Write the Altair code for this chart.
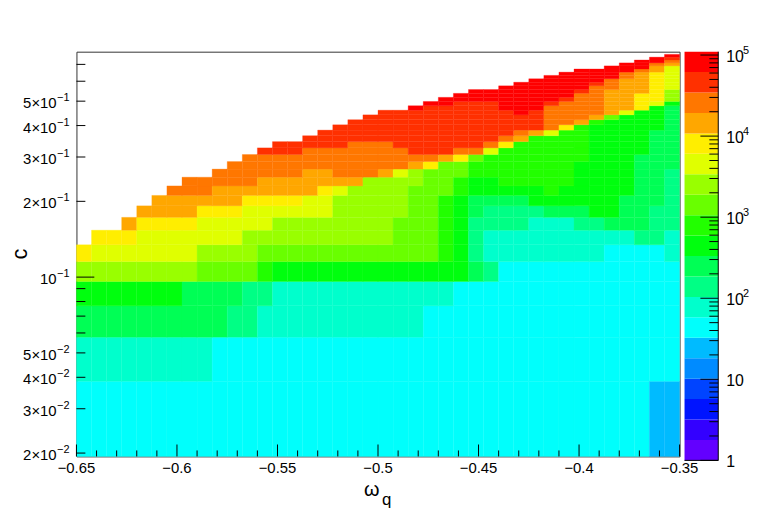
import altair as alt
import pandas as pd

# ROOT-style 20-level palette, lowest level first
palette = ["#6300FF", "#3300FF", "#0014FF", "#0044FF", "#008BFF", "#00BBFF", "#00FFFC",
           "#00FFCC", "#00FF85", "#00FF55", "#00FF0E", "#22FF00", "#69FF00", "#99FF00",
           "#E0FF00", "#FFEE00", "#FFA700", "#FF7700", "#FF3000", "#FF0000"]

# Histogram binning
x_min, x_max, n_x = -0.65, -0.35, 40
y_min, y_max, n_y = 0.0194, 0.7862, 40

# Colour level of each bin: (first column, last column, level), one list per row, bottom row first
row_00 = [(0, 37, 6), (38, 39, 5)]
row_01 = [(0, 8, 7), (9, 39, 6)]
row_02 = [(0, 9, 9), (10, 11, 8), (12, 22, 7), (23, 39, 6)]
row_03 = [(0, 6, 10), (7, 10, 9), (11, 12, 8), (13, 24, 7), (25, 39, 6)]
row_04 = [(0, 7, 13), (8, 11, 12), (12, 12, 11), (13, 25, 10), (26, 26, 9), (27, 27, 8), (28, 39, 6)]
row_05 = [(0, 0, 15), (1, 7, 14), (8, 11, 13), (12, 23, 12), (24, 24, 11), (25, 25, 10), (26, 26, 8), (27, 34, 7), (35, 38, 6), (39, 39, 7)]
row_06 = [(1, 3, 15), (4, 10, 14), (11, 20, 13), (21, 23, 12), (24, 24, 11), (25, 25, 10), (26, 26, 8), (27, 36, 7), (37, 38, 8), (39, 39, 7)]
row_07 = [(3, 3, 16), (4, 7, 15), (8, 12, 14), (13, 20, 13), (21, 23, 12), (24, 24, 11), (25, 25, 10), (26, 29, 8), (30, 32, 7), (33, 34, 8), (35, 37, 9), (38, 39, 8)]
row_08 = [(4, 7, 16), (8, 10, 15), (11, 16, 14), (17, 21, 13), (22, 23, 12), (24, 24, 11), (25, 25, 10), (26, 26, 9), (27, 30, 8), (31, 33, 9), (34, 35, 10), (36, 37, 9), (38, 39, 8)]
row_09 = [(5, 10, 16), (11, 14, 15), (15, 16, 14), (17, 21, 13), (22, 23, 12), (24, 24, 11), (25, 25, 10), (26, 29, 9), (30, 35, 10), (36, 38, 9), (39, 39, 8)]
row_10 = [(6, 8, 17), (9, 15, 16), (16, 16, 15), (17, 17, 14), (18, 21, 13), (22, 24, 12), (25, 25, 11), (26, 30, 10), (31, 31, 11), (32, 36, 10), (37, 38, 9), (39, 39, 8)]
row_11 = [(7, 11, 17), (12, 18, 16), (19, 22, 13), (23, 24, 12), (25, 25, 11), (26, 27, 10), (28, 32, 11), (33, 36, 10), (37, 38, 9), (39, 39, 8)]
row_12 = [(9, 14, 17), (15, 16, 16), (17, 19, 17), (20, 20, 16), (21, 21, 14), (22, 22, 13), (23, 25, 12), (26, 32, 11), (33, 36, 10), (37, 38, 9), (39, 39, 8)]
row_13 = [(10, 21, 17), (22, 22, 16), (23, 23, 15), (24, 25, 12), (26, 32, 11), (33, 36, 10), (37, 39, 9)]
row_14 = [(11, 23, 17), (24, 24, 16), (25, 25, 15), (26, 26, 12), (27, 33, 11), (34, 36, 10), (37, 39, 9)]
row_15 = [(12, 14, 18), (15, 21, 17), (22, 24, 18), (25, 26, 17), (27, 27, 14), (28, 33, 11), (34, 37, 10), (38, 39, 9)]
row_16 = [(13, 17, 18), (18, 20, 17), (21, 26, 18), (27, 27, 17), (28, 28, 15), (29, 33, 11), (34, 37, 10), (38, 39, 9)]
row_17 = [(15, 27, 18), (28, 28, 17), (29, 29, 16), (30, 33, 11), (34, 37, 10), (38, 39, 9)]
row_18 = [(16, 28, 18), (29, 29, 17), (30, 30, 16), (31, 31, 14), (32, 33, 11), (34, 37, 10), (38, 39, 9)]
row_19 = [(17, 30, 18), (31, 31, 17), (32, 32, 15), (33, 33, 11), (34, 38, 10), (39, 39, 9)]
row_20 = [(18, 30, 18), (31, 32, 17), (33, 33, 16), (34, 34, 11), (35, 38, 10), (39, 39, 9)]
row_21 = [(19, 30, 18), (31, 33, 17), (34, 34, 16), (35, 35, 12), (36, 38, 10), (39, 39, 9)]
row_22 = [(20, 28, 18), (29, 29, 19), (30, 30, 18), (31, 34, 17), (35, 35, 16), (36, 36, 14), (37, 38, 10), (39, 39, 9)]
row_23 = [(22, 22, 19), (23, 27, 18), (28, 30, 19), (31, 34, 17), (35, 36, 16), (37, 37, 15), (38, 38, 10), (39, 39, 9)]
row_24 = [(23, 24, 19), (25, 27, 18), (28, 30, 19), (31, 31, 18), (32, 34, 17), (35, 36, 16), (37, 37, 15), (38, 38, 14), (39, 39, 10)]
row_25 = [(24, 31, 19), (32, 32, 18), (33, 34, 17), (35, 36, 16), (37, 38, 15), (39, 39, 13)]
row_26 = [(25, 32, 19), (33, 34, 17), (35, 36, 16), (37, 38, 15), (39, 39, 13)]
row_27 = [(26, 32, 19), (33, 33, 18), (34, 34, 17), (35, 37, 16), (38, 38, 15), (39, 39, 13)]
row_28 = [(28, 33, 19), (34, 35, 17), (36, 37, 16), (38, 38, 15), (39, 39, 14)]
row_29 = [(29, 33, 19), (34, 34, 18), (35, 35, 17), (36, 37, 16), (38, 38, 15), (39, 39, 14)]
row_30 = [(30, 34, 19), (35, 35, 17), (36, 37, 16), (38, 38, 15), (39, 39, 14)]
row_31 = [(31, 35, 19), (36, 36, 17), (37, 37, 16), (38, 38, 15), (39, 39, 14)]
row_32 = [(32, 35, 19), (36, 36, 17), (37, 37, 16), (38, 38, 15), (39, 39, 14)]
row_33 = [(33, 36, 19), (37, 37, 17), (38, 38, 16), (39, 39, 14)]
row_34 = [(35, 37, 19), (38, 38, 16), (39, 39, 14)]
row_35 = [(36, 37, 19), (38, 38, 17), (39, 39, 16)]
row_36 = [(37, 38, 19), (39, 39, 17)]
row_37 = [(38, 38, 19), (39, 39, 18)]
row_38 = [(39, 39, 19)]
rows = [row_00, row_01, row_02, row_03, row_04, row_05, row_06, row_07, row_08, row_09,
        row_10, row_11, row_12, row_13, row_14, row_15, row_16, row_17, row_18, row_19,
        row_20, row_21, row_22, row_23, row_24, row_25, row_26, row_27, row_28, row_29,
        row_30, row_31, row_32, row_33, row_34, row_35, row_36, row_37, row_38]

# Axis ticks and labels
x_major = [-0.65, -0.6, -0.55, -0.5, -0.45, -0.4, -0.35]
x_labels = ["\u22120.65", "\u22120.6", "\u22120.55", "\u22120.5", "\u22120.45", "\u22120.4", "\u22120.35"]
x_minor = [-0.64, -0.63, -0.62, -0.61, -0.59, -0.58, -0.57, -0.56, -0.54, -0.53, -0.52, -0.51,
           -0.49, -0.48, -0.47, -0.46, -0.44, -0.43, -0.42, -0.41, -0.39, -0.38, -0.37, -0.36]
y_major = [0.1]
y_minor = [0.02, 0.03, 0.04, 0.05, 0.06, 0.07, 0.08, 0.09, 0.2, 0.3, 0.4, 0.5, 0.6, 0.7]
y_label_values = [0.02, 0.03, 0.04, 0.05, 0.1, 0.2, 0.3, 0.4, 0.5]
y_bases = ["2\u00d710", "3\u00d710", "4\u00d710", "5\u00d710", "10", "2\u00d710", "3\u00d710", "4\u00d710", "5\u00d710"]
y_exps = ["\u22122", "\u22122", "\u22122", "\u22122", "\u22121", "\u22121", "\u22121", "\u22121", "\u22121"]
z_max = 1.1e5
z_major = [1, 10, 100, 1000, 10000, 100000]
z_bases = ["1", "10", "10", "10", "10", "10"]
z_exps = ["", "", "2", "3", "4", "5"]
z_minor_factors = [2, 3, 4, 5, 6, 7, 8, 9]

FONT = "Liberation Sans"
W, H = 608, 408
BAR_W, BAR_H = 34, 412

dx = (x_max - x_min) / n_x
dy = (y_max - y_min) / n_y
cells = []
for j, runs in enumerate(rows):
    for first, last, level in runs:
        for i in range(first, last + 1):
            cells.append({"x0": x_min + i * dx, "x1": x_min + (i + 1) * dx,
                          "y0": y_min + j * dy, "y1": y_min + (j + 1) * dy, "level": level})
cells = pd.DataFrame(cells)

xs = alt.Scale(domain=[x_min, x_max], nice=False, zero=False)
ys = alt.Scale(type="log", domain=[y_min, y_max], nice=False)
color_scale = alt.Scale(domain=list(range(20)), range=palette)
color = alt.Color("level:O", scale=color_scale, legend=None)
stroke = alt.Stroke("level:O", scale=color_scale, legend=None)
X = lambda f: alt.X(f, type="quantitative", scale=xs, axis=None)
Y = lambda f: alt.Y(f, type="quantitative", scale=ys, axis=None)

heat = alt.Chart(cells).mark_rect(strokeWidth=0.3).encode(
    x=X("x0"), x2="x1", y=Y("y0"), y2="y1", color=color, stroke=stroke)


def xticks(values, size):
    return alt.Chart(pd.DataFrame({"v": values})).mark_rule(color="black", strokeWidth=1).encode(
        x=X("v"), y=alt.value(H), y2=alt.value(H - size))


def yticks(values, size):
    return alt.Chart(pd.DataFrame({"v": values})).mark_rule(color="black", strokeWidth=1).encode(
        y=Y("v"), x=alt.value(0), x2=alt.value(size))


xlab = alt.Chart(pd.DataFrame({"v": x_major, "t": x_labels})).mark_text(
    font=FONT, fontSize=15, baseline="alphabetic", align="center", color="black").encode(
    x=X("v"), y=alt.value(H + 17), text="t:N")
ylab_base = alt.Chart(pd.DataFrame({"v": y_label_values, "t": y_bases})).mark_text(
    font=FONT, fontSize=15, baseline="middle", align="right", color="black", dy=2).encode(
    y=Y("v"), x=alt.value(-20), text="t:N")
ylab_exp = alt.Chart(pd.DataFrame({"v": y_label_values, "t": y_exps})).mark_text(
    font=FONT, fontSize=11, baseline="middle", align="right", color="black", dy=-3).encode(
    y=Y("v"), x=alt.value(-7), text="t:N")


def label(text, x, y, font=FONT, **kw):
    return alt.Chart(pd.DataFrame({"t": [text]})).mark_text(font=font, color="black", **kw).encode(
        x=alt.value(x), y=alt.value(y), text="t:N")


omega = label("\u03c9", 290, 448, font="Liberation Sans", fontSize=20, align="left", baseline="alphabetic")
q = label("q", 308, 457, fontSize=17, align="left", baseline="alphabetic")
c_title = label("c", -57, 204, fontSize=22, angle=270, align="center", baseline="middle")

main = alt.layer(heat, xticks(x_major, 12), xticks(x_minor, 6), yticks(y_major, 18), yticks(y_minor, 9),
                 xlab, ylab_base, ylab_exp, omega, q, c_title).properties(
    width=W, height=H, view=alt.ViewConfig(stroke="#333333", strokeWidth=1))

# Colour bar
zs = alt.Scale(type="log", domain=[1, z_max], nice=False)
Z = lambda f: alt.Y(f, type="quantitative", scale=zs, axis=None)
boxes = pd.DataFrame({"level": list(range(20)),
                      "z0": [z_max ** (k / 20) for k in range(20)],
                      "z1": [z_max ** ((k + 1) / 20) for k in range(20)]})
bar = alt.Chart(boxes).mark_rect(strokeWidth=0).encode(
    x=alt.value(0), x2=alt.value(BAR_W), y=Z("z0"), y2="z1", color=color)
minor_vals = [m * f for m in z_major[:-1] for f in z_minor_factors]
ztick_major = alt.Chart(pd.DataFrame({"v": z_major})).mark_rule(color="black").encode(
    y=Z("v"), x=alt.value(BAR_W), x2=alt.value(BAR_W - 18))
ztick_minor = alt.Chart(pd.DataFrame({"v": minor_vals})).mark_rule(color="black").encode(
    y=Z("v"), x=alt.value(BAR_W), x2=alt.value(BAR_W - 9))
zlab_base = alt.Chart(pd.DataFrame({"v": z_major, "t": z_bases})).mark_text(
    font=FONT, fontSize=16, align="left", baseline="middle", color="black", dy=2).encode(
    y=Z("v"), x=alt.value(BAR_W + 8), text="t:N")
zlab_exp = alt.Chart(pd.DataFrame({"v": z_major, "t": z_exps})).mark_text(
    font=FONT, fontSize=11, align="left", baseline="middle", color="black", dy=-4).encode(
    y=Z("v"), x=alt.value(BAR_W + 25), text="t:N")
zline = alt.Chart(pd.DataFrame({"v": [1]})).mark_rule(color="black").encode(
    x=alt.value(BAR_W), y=alt.value(0), y2=alt.value(BAR_H))
zbase = alt.Chart(pd.DataFrame({"v": [1]})).mark_rule(color="black").encode(
    y=alt.value(BAR_H), x=alt.value(0), x2=alt.value(BAR_W))
cbar = alt.layer(bar, ztick_major, ztick_minor, zlab_base, zlab_exp, zline, zbase).properties(
    width=BAR_W, height=BAR_H, view=alt.ViewConfig(stroke=None))

chart = alt.hconcat(main, cbar, spacing=5, bounds="flush").properties(
    padding={"left": 0, "top": 35, "right": 0, "bottom": 0},
    background="white").configure_view(stroke=None)

chart.save("out.html", embed_options={"renderer": "svg", "actions": False})
